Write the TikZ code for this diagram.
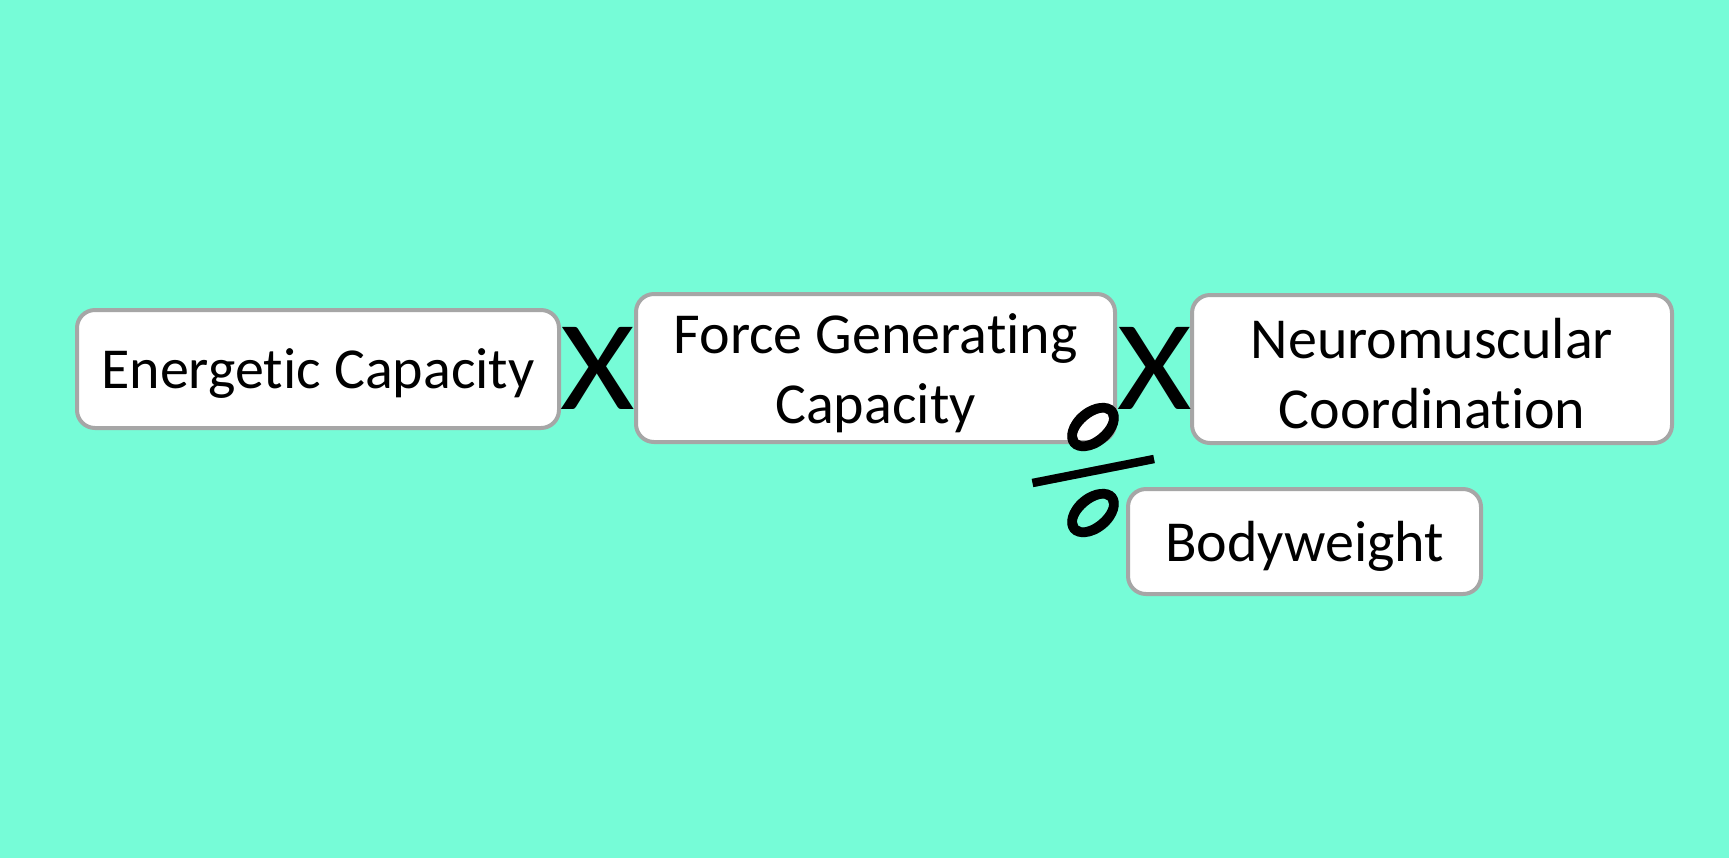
\documentclass[tikz,border=0pt]{standalone}
\usepackage{fontspec}
\setmainfont[Ligatures=NoCommon]{Carlito}
\definecolor{bg}{RGB}{118,252,215}
\definecolor{bord}{RGB}{166,166,166}
\begin{document}
\begin{tikzpicture}[x=0.5pt,y=-0.5pt,
  box/.style={draw=bord, line width=2pt, rounded corners=9pt, fill=white,
    align=center, inner sep=0pt},
  lbl/.style={font=\fontsize{29}{35}\selectfont, yshift=-2.5pt},
  op/.style={font=\fontsize{64}{64}\selectfont, inner sep=0pt, xscale=1.12},
  pcring/.style={fill=black, even odd rule},
  pcbar/.style={draw=black, line width=4.2pt},
  pcshadow/.style={opacity=0.25, xshift=1.5pt, yshift=-1.5pt}]
\fill[bg] (0,0) rectangle (1729,858);
\useasboundingbox (0,0) rectangle (1729,858);
\node[box, minimum width=241pt, minimum height=59pt] (ec) at (318,369) {};
\node[lbl, align=center] (ect) at (ec.center) {Energetic Capacity};
\node[box, minimum width=239.5pt, minimum height=74pt] (fg) at (875.5,368) {};
\node[lbl, align=center] (fgt) at (fg.center) {Force Generating\\Capacity};
\node[box, minimum width=240pt, minimum height=74pt] (nc) at (1432,369) {};
\node[lbl, align=center] (nct) at (nc.center) {Neuromuscular\\Coordination};
\node[box, minimum width=176.5pt, minimum height=52.5pt] (bw) at (1304.5,541.5) {};
\node[lbl, align=center] (bwt) at (bw.center) {Bodyweight};
\node[op] (x1) at (598,368.5) {X};
\node[op] (x2) at (1154.5,368.5) {X};
% rotated percent sign
\coordinate (pcA) at (1093,427);
\coordinate (pcB) at (1093,513);
\coordinate (pcS1) at (1032.5,483);
\coordinate (pcS2) at (1154,459);
\begin{scope}[pcshadow]
  \fill[pcring] (pcA) ellipse [x radius=14.7pt, y radius=9.8pt, rotate=40]
                (pcA) ellipse [x radius=9.75pt, y radius=4.65pt, rotate=40];
  \fill[pcring] (pcB) ellipse [x radius=14.7pt, y radius=9.8pt, rotate=40]
                (pcB) ellipse [x radius=9.75pt, y radius=4.65pt, rotate=40];
  \draw[pcbar] (pcS1) -- (pcS2);
\end{scope}
\fill[pcring] (pcA) ellipse [x radius=14.7pt, y radius=9.8pt, rotate=40]
              (pcA) ellipse [x radius=9.75pt, y radius=4.65pt, rotate=40];
\fill[pcring] (pcB) ellipse [x radius=14.7pt, y radius=9.8pt, rotate=40]
              (pcB) ellipse [x radius=9.75pt, y radius=4.65pt, rotate=40];
\draw[pcbar] (pcS1) -- (pcS2);
\end{tikzpicture}
\end{document}
